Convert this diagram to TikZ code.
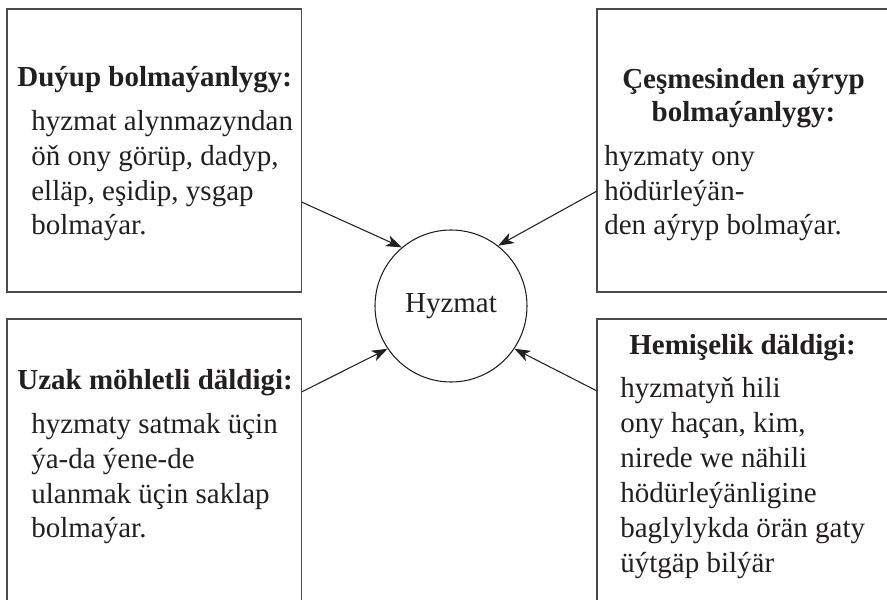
\documentclass[tikz,border=0pt]{standalone}
\usepackage{fontspec}
\setmainfont{Liberation Serif}
\usetikzlibrary{arrows.meta}
\definecolor{ink}{RGB}{35,31,32}
\definecolor{frame}{RGB}{75,75,75}

\begin{document}
\begin{tikzpicture}[
    box/.style={draw=frame, line width=0.75pt},
    title/.style={inner sep=0pt, text=ink, align=center,
      font=\fontsize{16.5}{18.8}\selectfont\bfseries},
    body/.style={inner sep=0pt, text=ink, align=left, anchor=base west,
      font=\fontsize{16.5}{19.9}\selectfont},
    arrow/.style={draw=ink, line width=0.6pt, -{Stealth[length=9pt,width=6.5pt,inset=2.5pt]}}
  ]
    \useasboundingbox (0,0) rectangle (17.74,12);
    \begin{scope}
      \clip (0,0) rectangle (17.74,12);
      \draw[box] (0.14,6.16) rectangle (6.03,11.82);
      \draw[box] (11.94,6.16) rectangle (18.5,11.82);
      \draw[box] (0.14,-0.5) rectangle (6.03,5.62);
      \draw[box] (11.94,-0.5) rectangle (18.5,5.62);
    \end{scope}

    % centre
    \node[circle, draw=ink, line width=0.6pt, minimum size=3.04cm, inner sep=0pt,
      text=ink, font=\fontsize{16.5}{19.9}\selectfont] (hz) at (9.02,5.88) {Hyzmat};

    % top left (base = last line)
    \node[title, anchor=base west] (tltitle) at (0.34,10.26) {Duýup bolmaýanlygy:};
    \node[body] (tlbody) at (0.62,7.30)
      {hyzmat alynmazyndan\\öň ony görüp, dadyp,\\elläp, eşidip, ysgap\\bolmaýar.};

    % top right
    \node[title, anchor=base] (trtitle) at (14.87,9.57)
      {Çeşmesinden aýryp\\bolmaýanlygy:};
    \node[body] (trbody) at (12.08,7.30)
      {hyzmaty ony\\hödürleýän-\\den aýryp bolmaýar.};

    % bottom left
    \node[title, anchor=base west] (bltitle) at (0.34,4.20) {Uzak möhletli däldigi:};
    \node[body] (blbody) at (0.62,1.24)
      {hyzmaty satmak üçin\\ýa-da ýene-de\\ulanmak üçin saklap\\bolmaýar.};

    % bottom right
    \node[title, anchor=base] (brtitle) at (14.85,4.90) {Hemişelik däldigi:};
    \node[body] (brbody) at (12.40,0.56)
      {hyzmatyň hili\\ony haçan, kim,\\nirede we nähili\\hödürleýänligine\\baglylykda örän gaty\\üýtgäp bilýär};

    % connectors
    \coordinate (tlout) at (6.03,7.96);
    \coordinate (trout) at (11.94,8.18);
    \coordinate (blout) at (6.03,4.16);
    \coordinate (brout) at (11.94,4.18);
    \draw[arrow] (tlout) -- (hz.130);
    \draw[arrow] (trout) -- (hz.52);
    \draw[arrow] (blout) -- (hz.214);
    \draw[arrow] (brout) -- (hz.326);
  \end{tikzpicture}
\end{document}
